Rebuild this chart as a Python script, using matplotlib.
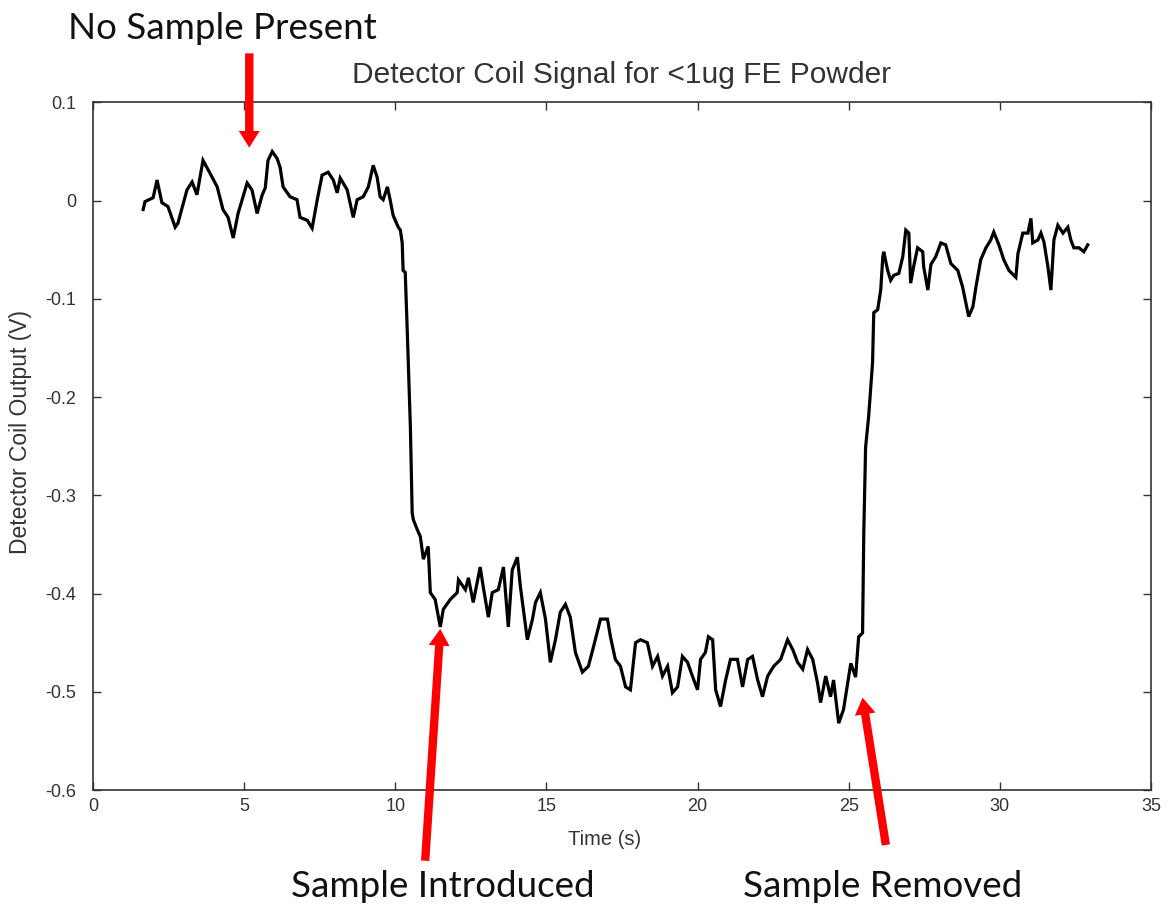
"""
Detector coil signal for <1ug FE powder - recreated chart
"""

import matplotlib
matplotlib.use('Agg')
import matplotlib.pyplot as plt

# ── data ──────────────────────────────────────────────────────────────────────
time_s = [
    1.66, 1.72, 1.99, 2.12, 2.28, 2.48, 2.72, 2.81, 3.11, 3.28, 3.44, 3.64,
    3.87, 4.11, 4.30, 4.47, 4.64, 4.80, 5.10, 5.26, 5.43, 5.60, 5.70, 5.79,
    5.93, 6.09, 6.19, 6.29, 6.52, 6.75, 6.85, 7.09, 7.25, 7.42, 7.58, 7.78,
    7.95, 8.08, 8.18, 8.41, 8.61, 8.74, 8.94, 9.11, 9.27, 9.40, 9.50, 9.60,
    9.74, 9.83, 9.93, 10.10, 10.17, 10.23, 10.26, 10.33, 10.40, 10.50, 10.56,
    10.60, 10.73, 10.83, 10.93, 11.09, 11.16, 11.32, 11.49, 11.59, 11.82,
    12.05, 12.09, 12.32, 12.42, 12.58, 12.81, 12.91, 13.08, 13.21, 13.41,
    13.58, 13.74, 13.87, 14.04, 14.14, 14.37, 14.54, 14.64, 14.80, 14.97,
    15.13, 15.30, 15.46, 15.63, 15.79, 15.96, 16.19, 16.39, 16.56, 16.79,
    17.02, 17.12, 17.28, 17.45, 17.62, 17.78, 17.95, 18.11, 18.34, 18.51,
    18.68, 18.84, 19.01, 19.17, 19.34, 19.50, 19.67, 19.83, 20.00, 20.10,
    20.26, 20.36, 20.50, 20.60, 20.76, 20.93, 21.09, 21.32, 21.49, 21.66,
    21.82, 21.99, 22.15, 22.32, 22.52, 22.75, 22.98, 23.15, 23.31, 23.48,
    23.64, 23.81, 23.97, 24.07, 24.24, 24.40, 24.50, 24.67, 24.83, 24.97,
    25.07, 25.23, 25.33, 25.46, 25.50, 25.56, 25.66, 25.79, 25.83, 25.96,
    26.06, 26.13, 26.16, 26.29, 26.39, 26.49, 26.66, 26.79, 26.89, 26.99,
    27.05, 27.15, 27.28, 27.45, 27.48, 27.62, 27.72, 27.88, 28.05, 28.21,
    28.38, 28.61, 28.77, 28.87, 28.97, 29.11, 29.21, 29.37, 29.54, 29.70,
    29.80, 29.97, 30.13, 30.30, 30.53, 30.60, 30.76, 30.93, 31.03, 31.09,
    31.26, 31.36, 31.46, 31.59, 31.69, 31.79, 31.92, 32.09, 32.25, 32.35,
    32.45, 32.62, 32.78, 32.91,
]
output_v = [
    -0.009, -0.001, 0.003, 0.021, -0.002, -0.006, -0.027, -0.023, 0.011, 0.019,
    0.006, 0.041, 0.028, 0.014, -0.009, -0.017, -0.038, -0.013, 0.018, 0.011,
    -0.013, 0.006, 0.013, 0.041, 0.050, 0.043, 0.034, 0.014, 0.004, 0.001,
    -0.017, -0.020, -0.028, 0.001, 0.026, 0.029, 0.021, 0.008, 0.023, 0.011,
    -0.017, 0.001, 0.004, 0.014, 0.036, 0.024, 0.004, 0.001, 0.014, 0.001,
    -0.015, -0.027, -0.030, -0.043, -0.071, -0.073, -0.135, -0.230, -0.318,
    -0.325, -0.335, -0.342, -0.365, -0.352, -0.399, -0.406, -0.434, -0.416,
    -0.406, -0.399, -0.386, -0.396, -0.384, -0.409, -0.373, -0.393, -0.424,
    -0.399, -0.396, -0.373, -0.434, -0.376, -0.363, -0.393, -0.447, -0.426,
    -0.409, -0.399, -0.426, -0.470, -0.447, -0.419, -0.411, -0.424, -0.460,
    -0.480, -0.474, -0.454, -0.426, -0.426, -0.444, -0.467, -0.474, -0.495,
    -0.498, -0.450, -0.447, -0.450, -0.474, -0.464, -0.484, -0.474, -0.501,
    -0.495, -0.464, -0.470, -0.484, -0.498, -0.467, -0.460, -0.444, -0.447,
    -0.498, -0.515, -0.488, -0.467, -0.467, -0.495, -0.467, -0.464, -0.488,
    -0.505, -0.484, -0.474, -0.467, -0.447, -0.457, -0.470, -0.477, -0.457,
    -0.467, -0.491, -0.511, -0.484, -0.505, -0.488, -0.532, -0.518, -0.491,
    -0.471, -0.485, -0.444, -0.440, -0.338, -0.251, -0.220, -0.165, -0.114,
    -0.111, -0.091, -0.057, -0.052, -0.071, -0.081, -0.076, -0.074, -0.057,
    -0.030, -0.033, -0.084, -0.067, -0.048, -0.052, -0.067, -0.091, -0.065,
    -0.057, -0.043, -0.045, -0.064, -0.071, -0.088, -0.103, -0.118, -0.108,
    -0.088, -0.060, -0.048, -0.040, -0.032, -0.045, -0.060, -0.071, -0.078,
    -0.054, -0.033, -0.033, -0.018, -0.043, -0.040, -0.033, -0.042, -0.067,
    -0.091, -0.040, -0.025, -0.033, -0.027, -0.040, -0.048, -0.048, -0.052,
    -0.045,
]

x_ticks = [0, 5, 10, 15, 20, 25, 30, 35]
y_ticks = [-0.6, -0.5, -0.4, -0.3, -0.2, -0.1, 0, 0.1]
y_ticklabels = ['-0.6', '-0.5', '-0.4', '-0.3', '-0.2', '-0.1', '0', '0.1']

# callouts: label, text position, arrow tail, arrow tip (data units)
callouts = [
    ('No Sample Present', (4.27, 0.175), (5.17, 0.150), (5.17, 0.054)),
    ('Sample Introduced', (11.56, -0.698), (10.99, -0.672), (11.49, -0.436)),
    ('Sample Removed', (26.13, -0.698), (26.23, -0.656), (25.46, -0.506)),
]

# ── figure ─────────────────────────────────────────────────────────────────────
fig = plt.figure(figsize=(11.68, 9.09), dpi=100)
ax = fig.add_axes([0.0796, 0.1309, 0.9058, 0.7564])

ax.plot(time_s, output_v, color='black', linewidth=2.3,
        solid_joinstyle='miter')

ax.set_xlim(0, 35)
ax.set_ylim(-0.6, 0.1)
ax.set_xticks(x_ticks)
ax.set_yticks(y_ticks)
ax.set_yticklabels(y_ticklabels)
ax.tick_params(direction='in', length=6, width=1, top=True, right=True,
               labelsize=13, colors='#333333', labelcolor='#333333', pad=6)
ax.tick_params(axis='y', pad=12)
for sp in ax.spines.values():
    sp.set_color('#333333')
    sp.set_linewidth(1.2)

tfont = ['Liberation Sans', 'DejaVu Sans']
for lab in ax.get_xticklabels() + ax.get_yticklabels():
    lab.set_family(tfont)

ax.set_title('Detector Coil Signal for <1ug FE Powder', fontsize=21.5,
             color='#333333', family=tfont, pad=14)
ax.set_xlabel('Time (s)', fontsize=14.5, color='#333333', family=tfont)
ax.xaxis.set_label_coords(0.484, -0.058)
ax.set_ylabel('Detector Coil Output (V)', fontsize=16.5, color='#333333',
              family=tfont)
ax.yaxis.set_label_coords(-0.058, 0.52)

# red arrows + labels
for label, txt_pos, tail, tip in callouts:
    ax.annotate('', xy=tip, xytext=tail, annotation_clip=False,
                arrowprops=dict(arrowstyle='simple,head_length=12,head_width=15,tail_width=6',
                                mutation_scale=1, color='#ff0000', lw=0,
                                shrinkA=0, shrinkB=0))
    ax.text(txt_pos[0], txt_pos[1], label, fontsize=26.5, color='#111111',
            family=['Lato', 'DejaVu Sans'], ha='center', va='center', clip_on=False)

plt.savefig('out.png', dpi=100)
plt.close()
